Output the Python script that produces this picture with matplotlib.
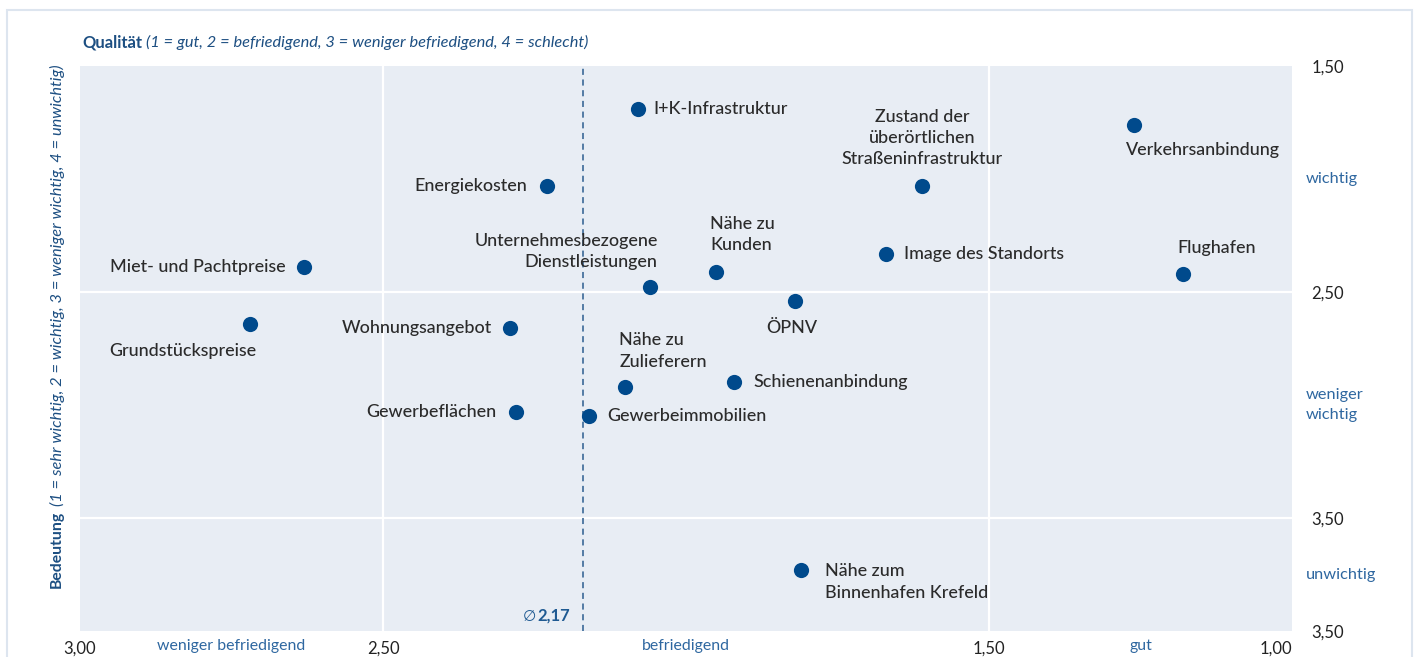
import matplotlib
matplotlib.use("Agg")
import matplotlib.pyplot as plt
import matplotlib.transforms as mtrans
from matplotlib.patches import Rectangle

plt.rcParams['font.family'] = ['Lato', 'DejaVu Sans']

# ---- data ----
factors = ["I+K-Infrastruktur", "Verkehrsanbindung", "Energiekosten",
           "Zustand der\nüberörtlichen\nStraßeninfrastruktur", "Miet- und Pachtpreise",
           "Image des Standorts", "Nähe zu\nKunden", "Flughafen",
           "Unternehmesbezogene\nDienstleistungen", "ÖPNV", "Grundstückspreise",
           "Wohnungsangebot", "Nähe zu\nZulieferern", "Schienenanbindung",
           "Gewerbeflächen", "Gewerbeimmobilien", "Nähe zum\nBinnenhafen Krefeld"]
qualitaet = [2.08, 1.26, 2.23, 1.61, 2.63, 1.67, 1.95, 1.18, 2.06, 1.82, 2.72,
             2.29, 2.10, 1.92, 2.28, 2.16, 1.81]
bedeutung = [1.69, 1.76, 2.03, 2.03, 2.39, 2.33, 2.41, 2.42, 2.48, 2.54, 2.64,
             2.66, 2.92, 2.90, 3.03, 3.05, 3.73]
mean_quality = 2.17

x_ticks = [3.0, 2.5, 1.5, 1.0]
x_ticklabels = ["3,00", "2,50", "1,50", "1,00"]
y_ticks = [1.5, 2.5, 3.5, 4.0]
y_ticklabels = ["1,50", "2,50", "3,50", "3,50"]
x_cats = ["weniger befriedigend", "befriedigend", "gut"]
x_cat_pos = [2.75, 2.0, 1.25]
y_cats = ["wichtig", "weniger\nwichtig", "unwichtig"]
y_cat_pos = [2.0, 3.0, 3.75]

# label placement (offset pixels, ha)
placement = [
    (16, 0, 'left'), (-8, -25, 'left'), (-19, 0, 'right'), (0, 48, 'center'),
    (-19, 0, 'right'), (18, 0, 'left'), (-6, 37, 'left'), (-6, 26, 'left'),
    (8, 36, 'right'), (-3, -27, 'center'), (7, -27, 'right'), (-18, 0, 'right'),
    (-6, 36, 'left'), (19, 0, 'left'), (-20, 0, 'right'), (18, 0, 'left'),
    (24, -12, 'left'),
]

W, H = 1417, 657
fig = plt.figure(figsize=(W / 100, H / 100), dpi=100)
fig.patch.set_facecolor('white')

# outer frame
fig.add_artist(Rectangle((7 / W, -0.05), (1412 - 7) / W, (H - 10) / H + 0.05,
                         transform=fig.transFigure, fill=False,
                         edgecolor='#dde5ef', linewidth=1.5))

ax = fig.add_axes([80 / W, (H - 631) / H, (1292 - 80) / W, (631 - 66) / H])
ax.set_facecolor('#e8edf4')
ax.set_xlim(3.0, 1.0)
ax.set_ylim(4.0, 1.5)
for s in ax.spines.values():
    s.set_visible(False)

for gx in [2.5, 1.5]:
    ax.axvline(gx, color='white', lw=1.6, zorder=1)
for gy in [2.5, 3.5]:
    ax.axhline(gy, color='white', lw=1.6, zorder=1)

ax.axvline(mean_quality, color='#2c5d8f', lw=1.1, ls=(0, (4, 3)), zorder=2)
ax.annotate("2,17", xy=(mean_quality, 4.0), xytext=(-13, 7),
            textcoords='offset pixels', ha='right', va='bottom',
            fontsize=12, fontweight='bold', color='#1f5a92')
ax.annotate("∅", xy=(mean_quality, 4.0), xytext=(-47, 7),
            textcoords='offset pixels', ha='right', va='bottom',
            fontsize=11, family='DejaVu Sans', color='#1f5a92')

blue = '#004a8c'
ax.scatter(qualitaet, bedeutung, s=120, color=blue, zorder=3, linewidths=0)

for name, qx, by, (dx, dy, ha) in zip(factors, qualitaet, bedeutung, placement):
    ax.annotate(name, xy=(qx, by), xytext=(dx, dy), textcoords='offset pixels',
                ha=ha, va='center', multialignment=ha, fontsize=12.9,
                fontweight='medium', color='#2b2b2b', linespacing=1.4, zorder=4)

# ticks
ax.set_xticks(x_ticks)
ax.set_xticklabels(x_ticklabels)
ax.tick_params(axis='x', length=0, pad=7, labelsize=12, labelcolor='#222222')
ax.get_xticklabels()[-1].set_ha('right')
ax.yaxis.tick_right()
ax.set_yticks(y_ticks)
ax.set_yticklabels(y_ticklabels)
ax.tick_params(axis='y', length=0, pad=14, labelsize=12, labelcolor='#222222')

cat_color = '#2e67a0'
below = ax.transData + mtrans.ScaledTranslation(0, -8 / 100, fig.dpi_scale_trans)
for lab, xp in zip(x_cats, x_cat_pos):
    ax.text(xp, 4.0, lab, transform=below, ha='center', va='top',
            fontsize=11.4, color=cat_color)
right = ax.transData + mtrans.ScaledTranslation(14 / 100, 0, fig.dpi_scale_trans)
for lab, yp in zip(y_cats, y_cat_pos):
    ax.text(1.0, yp, lab, ha='left', va='center', fontsize=11.8, color=cat_color,
            linespacing=1.5, transform=right)

title_color = '#1d4f82'
fig.text(82 / W, 1 - 42 / H, "Qualität", fontsize=12, fontweight='bold',
         color=title_color, ha='left', va='center')
fig.text(146 / W, 1 - 42 / H, "(1 = gut, 2 = befriedigend, 3 = weniger befriedigend, 4 = schlecht)",
         fontsize=11.8, fontstyle='italic', color=title_color, ha='left', va='center')

bed = fig.text(57 / W, 1 - 588 / H, "Bedeutung", fontsize=11.3, fontweight='bold',
               color=title_color, ha='center', va='bottom', rotation=90)
fig.canvas.draw()
bb = bed.get_window_extent(renderer=fig.canvas.get_renderer())
fig.text(57 / W, (bb.y1 + 5) / H,
         "(1 = sehr wichtig, 2 = wichtig, 3 = weniger wichtig, 4 = unwichtig)",
         fontsize=11.8, fontstyle='italic', color=title_color, ha='center', va='bottom',
         rotation=90)

fig.savefig("out.png", dpi=100)
